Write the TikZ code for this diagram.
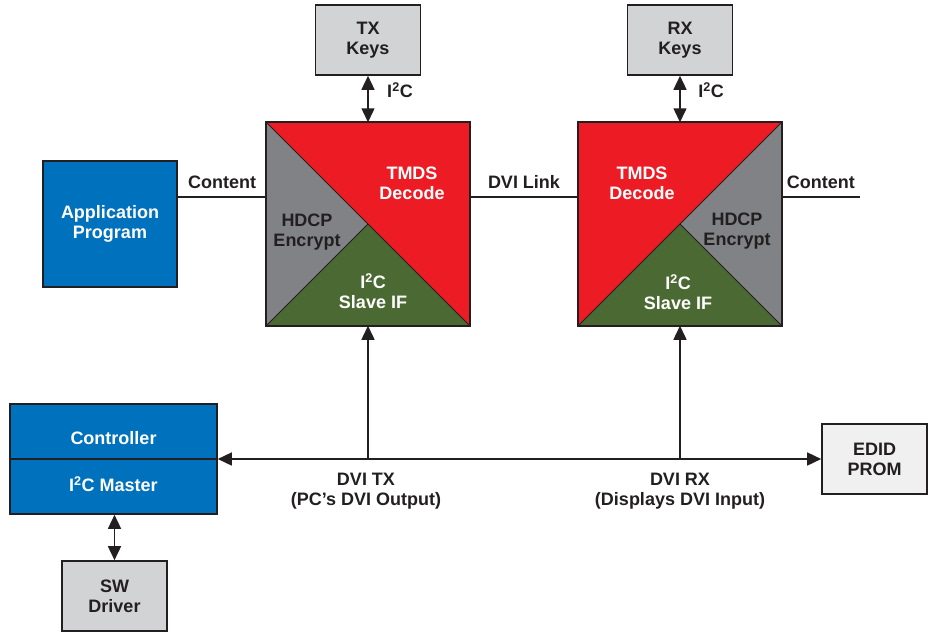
\documentclass[tikz,border=0pt]{standalone}
\usepackage{fontspec}
\setmainfont{Liberation Sans}
\usetikzlibrary{arrows.meta}
\definecolor{appblue}{HTML}{0071BC}
\definecolor{tmdsred}{HTML}{ED1C24}
\definecolor{hdcpgrey}{HTML}{808285}
\definecolor{slavegreen}{HTML}{4B6A33}
\definecolor{keygrey}{HTML}{D1D3D4}
\definecolor{promgrey}{HTML}{F0F0F1}
\definecolor{inkblack}{HTML}{231F20}
\newcommand{\iic}{I\textsuperscript{2}C}
\begin{document}
\begin{tikzpicture}[x=1pt, y=-1pt, line width=1.5pt, draw=inkblack,
    lbl/.style={font=\bfseries\fontsize{18}{20}\selectfont, align=center, inner sep=0pt, text=inkblack},
    box/.style={lbl, draw=inkblack, line width=1.6pt, minimum width=105pt, minimum height=70pt},
    greybox/.style={box, fill=keygrey},
    bluebox/.style={box, fill=appblue, text=white},
    wlbl/.style={lbl, text=white},
    arr/.style={-{Triangle[length=14pt,width=13pt]}},
    darr/.style={{Triangle[length=14pt,width=13pt]}-{Triangle[length=14pt,width=13pt]}}]
    \useasboundingbox (0,0) rectangle (932,633);
    % key stores and outer boxes
    \foreach \n/\x/\t in {txkeys/368/TX, rxkeys/680/RX} \node[greybox] (\n) at (\x,40) {\t\\Keys};
    \node[bluebox, minimum width=134pt, minimum height=126pt] (app) at (110,224) {Application\\Program};
    \node[bluebox, minimum width=207pt, minimum height=110pt] (ctrl) at (113.5,459) {};
    \node[greybox] (sw) at (114.5,596) {SW\\Driver};
    \node[box, fill=promgrey] (edid) at (874.5,459) {EDID\\PROM};
    \draw[line width=1.6pt] (ctrl.west) -- (ctrl.east);
    \node[wlbl] (ctrltxt) at (113.5,438) {Controller}; \node[wlbl] (mastertxt) at (113.5,484) {\iic{} Master};
    % the two DVI chips
    \path node[minimum size=202pt, inner sep=0pt] (tx) at (368,224) {} node[minimum size=202pt, inner sep=0pt] (rx) at (680,224) {};
    \fill[tmdsred] (tx.north west) -- (tx.north east) -- (tx.south east) -- cycle;
    \fill[hdcpgrey] (tx.north west) -- (tx.center) -- (tx.south west) -- cycle;
    \fill[slavegreen] (tx.south west) -- (tx.center) -- (tx.south east) -- cycle;
    \fill[tmdsred] (rx.north west) -- (rx.north east) -- (rx.south west) -- cycle;
    \fill[hdcpgrey] (rx.north east) -- (rx.center) -- (rx.south east) -- cycle;
    \fill[slavegreen] (rx.south west) -- (rx.center) -- (rx.south east) -- cycle;
    \foreach \c in {tx,rx} \draw[line width=1.6pt] (\c.north west) rectangle (\c.south east);
    \draw[line width=0.9pt] (tx.north west) -- (tx.south east) (tx.south west) -- (tx.center);
    \draw[line width=0.9pt] (rx.south west) -- (rx.north east) (rx.south east) -- (rx.center);
    \node[wlbl] (txtmds) at (412,183) {TMDS\\Decode}; \node[lbl] (txhdcp) at (307,232) {HDCP\\Encrypt}; \node[wlbl] (txslave) at (373,291) {\iic\\Slave IF};
    \node[wlbl] (rxtmds) at (642,183) {TMDS\\Decode}; \node[lbl] (rxhdcp) at (737,231) {HDCP\\Encrypt}; \node[wlbl] (rxslave) at (678,292) {\iic\\Slave IF};
    % links
    \coordinate (rxout) at (860,197);
    \draw (app.east |- 0,197) -- node[lbl, above=8pt] (cin) {Content} (tx.west |- 0,197);
    \draw (tx.east |- 0,197) -- node[lbl, above=8pt] (dvilink) {DVI Link} (rx.west |- 0,197);
    \draw (rx.east |- 0,197) -- node[lbl, above=8pt] (cout) {Content} (rxout);
    \draw[darr] (txkeys.south) -- (tx.north); \draw[darr] (rxkeys.south) -- (rx.north);
    \node[lbl] (txiic) at (400,90) {\iic}; \node[lbl] (rxiic) at (711,90) {\iic};
    \draw[darr] (ctrl.east) -- (edid.west);
    \coordinate (txtap) at (tx.south |- ctrl.east); \coordinate (rxtap) at (rx.south |- ctrl.east);
    \draw[arr] (txtap) -- (tx.south); \draw[arr] (rxtap) -- (rx.south);
    \draw[darr] (ctrl.south -| sw.north) -- (sw.north);
    \node[lbl] (dvitx) at (366,491) {DVI TX\\(PC’s DVI Output)};
    \node[lbl] (dvirx) at (680,491) {DVI RX\\(Displays DVI Input)};
\end{tikzpicture}
\end{document}
